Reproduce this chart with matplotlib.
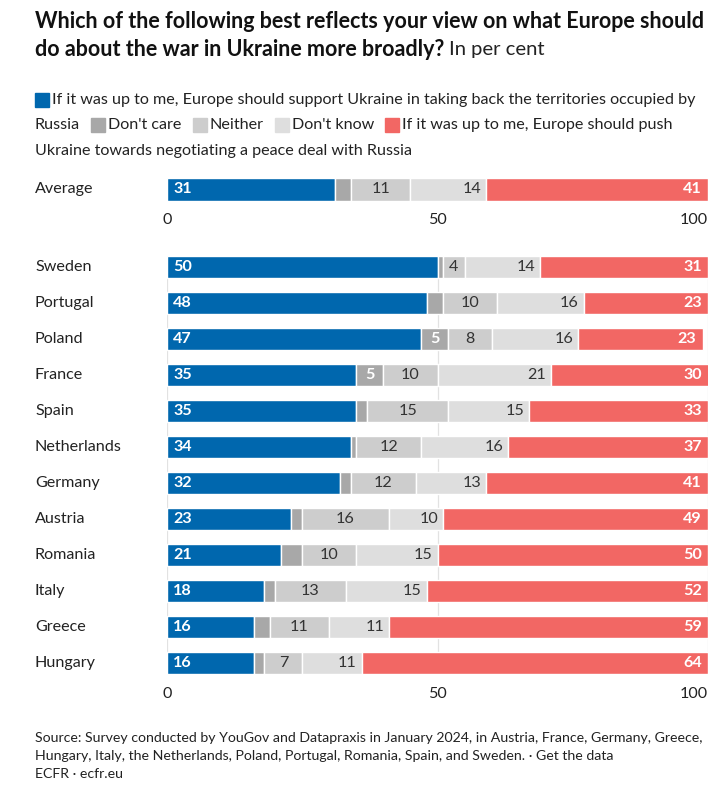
import matplotlib
matplotlib.use("Agg")
import matplotlib.pyplot as plt
from matplotlib.patches import Rectangle
import numpy as np

plt.rcParams['font.family'] = ['Lato', 'DejaVu Sans']

# ---------------- data ----------------
countries = ["Sweden", "Portugal", "Poland", "France", "Spain", "Netherlands",
             "Germany", "Austria", "Romania", "Italy", "Greece", "Hungary"]
support = [50, 48, 47, 35, 35, 34, 32, 23, 21, 18, 16, 16]
dont_care = [1, 3, 5, 5, 2, 1, 2, 2, 4, 2, 3, 2]
neither = [4, 10, 8, 10, 15, 12, 12, 16, 10, 13, 11, 7]
dont_know = [14, 16, 16, 21, 15, 16, 13, 10, 15, 15, 11, 11]
push = [31, 23, 23, 30, 33, 37, 41, 49, 50, 52, 59, 64]

avg_label = "Average"
avg_support, avg_dont_care, avg_neither, avg_dont_know, avg_push = 31, 3, 11, 14, 41

series_names = ["If it was up to me, Europe should support Ukraine in taking back the territories occupied by Russia",
                "Don't care", "Neither", "Don't know",
                "If it was up to me, Europe should push Ukraine towards negotiating a peace deal with Russia"]
colors = ["#0067AE", "#A8A8A8", "#CDCDCD", "#DEDEDE", "#F26764"]
xticks = [0, 50, 100]

W, H = 721, 797
fig = plt.figure(figsize=(W / 100, H / 100), dpi=100)
fig.patch.set_facecolor("white")

def px_axes(x0, y0, x1, y1):
    return fig.add_axes([x0 / W, 1 - y1 / H, (x1 - x0) / W, (y1 - y0) / H])

TXT = "#222222"
FS = 11.6

def draw_rows(ax, labels, data, height, grid=True):
    n = len(labels)
    ypos = np.arange(n)
    left = np.zeros(n)
    for k, (vals, col) in enumerate(zip(data, colors)):
        vals = np.array(vals, dtype=float)
        ax.barh(ypos, vals, left=left, height=height, color=col,
                edgecolor="white", linewidth=1.0, zorder=2)
        for i in range(n):
            v = vals[i]
            s = left[i]
            kw = dict(va="center", annotation_clip=False, fontsize=FS)
            if k == 0:
                ax.annotate(f"{int(v)}", (s, ypos[i]), xytext=(4.5, 0), textcoords="offset points",
                            ha="left", color="white", fontweight="bold", **kw)
            elif k == 1:
                if v >= 5:
                    ax.annotate(f"{int(v)}", (s + v / 2, ypos[i]), ha="center",
                                color="white", fontweight="bold", **kw)
            elif k == 2:
                ax.annotate(f"{int(v)}", (s + v / 2, ypos[i]), ha="center",
                            color="#333333", **kw)
            elif k == 3:
                ax.annotate(f"{int(v)}", (s + v, ypos[i]), xytext=(-3.5, 0), textcoords="offset points",
                            ha="right", color="#333333", **kw)
            else:
                ax.annotate(f"{int(v)}", (min(s + v, 100), ypos[i]), xytext=(-4.5, 0), textcoords="offset points",
                            ha="right", color="white", fontweight="bold", **kw)
        left = left + vals
    ax.set_xlim(0, 100)
    ax.set_yticks([])
    for sp in ax.spines.values():
        sp.set_visible(False)
    if grid:
        for xv in xticks:
            ax.axvline(xv, color="#E2E2E2", linewidth=0.9, zorder=1)
    ax.set_xticks(xticks)
    ax.set_xticklabels([str(t) for t in xticks])
    ax.tick_params(axis="x", length=0, labelsize=FS, labelcolor=TXT)
    labs = ax.get_xticklabels()
    labs[-1].set_ha("right")
    for i, lab in enumerate(labels):
        ax.text(-132 / 5.41, ypos[i], lab, ha="left", va="center", fontsize=FS, color=TXT,
                transform=ax.transData, clip_on=False)

X0, X1 = 167, 708
# Average axes
ax_avg = px_axes(X0, 177.5, X1, 200.5)
draw_rows(ax_avg, [avg_label], [[avg_support], [avg_dont_care], [avg_neither], [avg_dont_know], [avg_push]],
          height=1.0, grid=False)
ax_avg.set_ylim(0.5, -0.5)
ax_avg.tick_params(axis="x", pad=9)

# Country axes
ax = px_axes(X0, 256, X1, 674)
draw_rows(ax, countries, [support, dont_care, neither, dont_know, push], height=0.61)
ax.set_ylim(len(countries) - 1 + 0.305, -0.305)
ax.tick_params(axis="x", pad=9)

# ---------------- title ----------------
fig.canvas.draw()
r = fig.canvas.get_renderer()
TFS = 15.0
t1 = fig.text(35 / W, 1 - 22 / H, "Which of the following best reflects your view on what Europe should",
              fontsize=TFS, fontweight="bold", color="#111111", va="center", ha="left")
w1 = t1.get_window_extent(r).width
TFS = TFS * 672 / w1
t1.set_fontsize(TFS)
t2 = fig.text(35 / W, 1 - 49 / H, "do about the war in Ukraine more broadly?",
              fontsize=TFS, fontweight="bold", color="#111111", va="center", ha="left")
bb = t2.get_window_extent(r)
fig.text((bb.x1 + 5) / W, 1 - 49 / H, "In per cent", fontsize=14.6, color="#222222",
         va="center", ha="left")

# ---------------- legend ----------------
LFS = 11.6
SQ = 14
def sq(x, y, col):
    fig.patches.append(Rectangle((x / W, 1 - (y + SQ / 2) / H), SQ / W, SQ / H,
                                 transform=fig.transFigure, color=col, figure=fig))

def txt(x, y, s):
    t = fig.text(x / W, 1 - y / H, s, fontsize=LFS, color=TXT, va="center", ha="left")
    return t.get_window_extent(r).x1

y1, y2, y3 = 100, 125, 151
sq(35, y1, colors[0])
txt(35 + SQ + 3, y1, "If it was up to me, Europe should support Ukraine in taking back the territories occupied by")
x = txt(35, y2, "Russia")
for k, name in zip([1, 2, 3], series_names[1:4]):
    sq(x + 11, y2, colors[k])
    x = txt(x + 11 + SQ + 3, y2, name)
sq(x + 11, y2, colors[4])
txt(x + 11 + SQ + 3, y2, "If it was up to me, Europe should push")
txt(35, y3, "Ukraine towards negotiating a peace deal with Russia")

# ---------------- footer ----------------
foot = ["Source: Survey conducted by YouGov and Datapraxis in January 2024, in Austria, France, Germany, Greece,",
        "Hungary, Italy, the Netherlands, Poland, Portugal, Romania, Spain, and Sweden. \u00b7 Get the data",
        "ECFR \u00b7 ecfr.eu"]
for yy, s in zip([738, 756, 774], foot):
    fig.text(35 / W, 1 - yy / H, s, fontsize=10.2, color=TXT, va="center", ha="left")

fig.savefig("out.png", dpi=100, facecolor="white")
